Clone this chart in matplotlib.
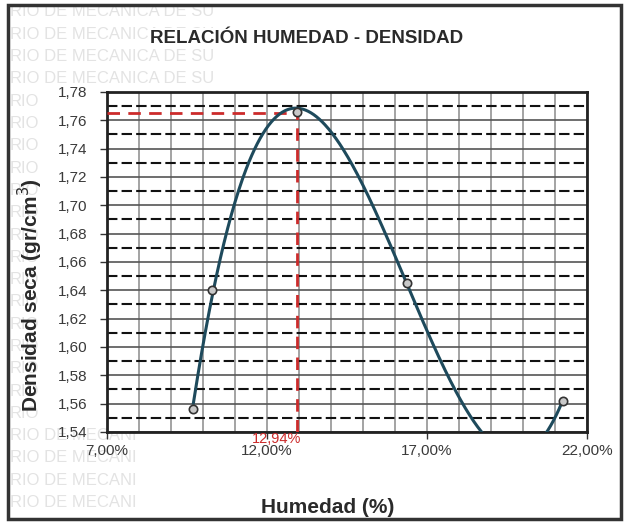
import matplotlib
matplotlib.use("Agg")
import matplotlib.pyplot as plt
import numpy as np
from matplotlib.patches import Rectangle
from matplotlib.ticker import FuncFormatter, MultipleLocator

plt.rcParams["font.family"] = ["Liberation Sans", "DejaVu Sans"]

# Proctor test points: moisture (%) vs dry density (gr/cm3)
humedad = [9.70, 10.27, 12.94, 16.38, 21.24]
densidad = [1.556, 1.640, 1.766, 1.645, 1.562]

# optimum moisture and max dry density
hum_optima = 12.94
dens_max = 1.765

x_ticks = [7, 12, 17, 22]
y_min, y_max = 1.54, 1.78

sello = "RIO DE MECANICA DE SU"

fig = plt.figure(figsize=(6.25, 5.24), dpi=100)

# faint lab stamp in the margins behind the chart
for i in range(23):
    y_px = 12 + i * 22.3
    if y_px < 88:
        txt = sello
    elif y_px > 428:
        txt = sello[:13]
    else:
        txt = sello[:3]
    fig.text(10 / 625, 1 - y_px / 524, txt, fontsize=12,
             color="#e3e3e3", va="center", ha="left", zorder=-1)

ax = fig.add_axes([0.1712, 0.1756, 0.768, 0.649])
ax.set_facecolor("white")

# polynomial trendline (order 3) across the data range
coef = np.polyfit(humedad, densidad, 3)
xs = np.linspace(min(humedad), max(humedad), 400)
ax.plot(xs, np.polyval(coef, xs), color="#1e4a5c", lw=2.2, zorder=5)
ax.plot(humedad, densidad, "o", ms=6, mfc="#c8c8c8", mec="#333333",
        mew=1.2, zorder=6)

# optimum guide lines
ax.plot([x_ticks[0], hum_optima], [dens_max, dens_max], color="#cc2b2b",
        lw=2, ls=(0, (4.5, 3)), zorder=4)
ax.plot([hum_optima, hum_optima], [y_min, dens_max], color="#cc2b2b",
        lw=2, ls=(0, (4.5, 3)), zorder=4)
ax.annotate(f"{hum_optima:.2f}%".replace(".", ","), xy=(hum_optima, y_min),
            xytext=(-15, 0), textcoords="offset points", ha="center",
            va="top", color="#cc2b2b", fontsize=10.5, annotation_clip=False,
            zorder=7)

ax.set_xlim(x_ticks[0], x_ticks[-1])
ax.set_ylim(y_min, y_max)
ax.set_xticks(x_ticks)
ax.xaxis.set_minor_locator(MultipleLocator(1))
ax.yaxis.set_major_locator(MultipleLocator(0.02))
ax.yaxis.set_minor_locator(MultipleLocator(0.01))
ax.xaxis.set_major_formatter(FuncFormatter(lambda v, p: f"{v:.2f}%".replace(".", ",")))
ax.yaxis.set_major_formatter(FuncFormatter(lambda v, p: f"{v:.2f}".replace(".", ",")))

ax.grid(True, axis="x", which="both", color="#8a8a8a", lw=1.1)
ax.grid(True, axis="y", which="major", color="#555555", lw=1.2)
ax.grid(True, axis="y", which="minor", color="#111111", lw=1.5, ls=(0, (5, 2)))
ax.set_axisbelow(True)

ax.tick_params(axis="both", which="major", direction="out", length=5,
               width=1, color="#333333", labelcolor="#3a3a3a", labelsize=11)
ax.tick_params(axis="y", which="major", pad=9)
ax.tick_params(axis="x", which="major", pad=4)
ax.tick_params(axis="both", which="minor", length=0)
for s in ax.spines.values():
    s.set_linewidth(2)
    s.set_color("#222222")

fig.text(0.49, 0.927, "RELACIÓN HUMEDAD - DENSIDAD", ha="center", va="center",
         fontsize=13.5, fontweight="bold", color="#2a2a2a",
         bbox=dict(fc="white", ec="none", pad=1))
fig.text(0.525, 0.031, "Humedad (%)", ha="center", va="center",
         fontsize=15, fontweight="bold", color="#2a2a2a")
fig.text(0.048, 0.437, "Densidad seca (gr/cm$^3$)", ha="center", va="center",
         rotation=90, fontsize=15, fontweight="bold", color="#2a2a2a")

fig.patches.append(Rectangle((8 / 625, 5 / 524), 613 / 625, 514 / 524,
                             transform=fig.transFigure, fill=False,
                             lw=2.5, edgecolor="#333333"))

fig.savefig("out.png", dpi=100)
